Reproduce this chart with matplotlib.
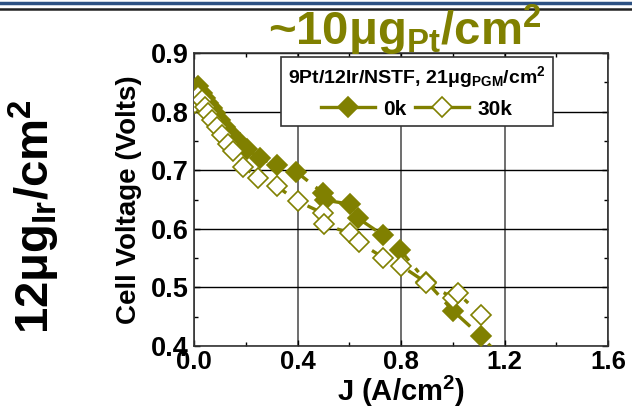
import matplotlib
matplotlib.use("Agg")
import matplotlib.pyplot as plt
from matplotlib.lines import Line2D

plt.rcParams['font.family'] = ['Liberation Sans', 'DejaVu Sans']
plt.rcParams['font.weight'] = 'bold'
plt.rcParams['axes.labelweight'] = 'bold'
plt.rcParams['mathtext.fontset'] = 'custom'
plt.rcParams['mathtext.rm'] = 'Liberation Sans:bold'
plt.rcParams['mathtext.it'] = 'Liberation Sans:bold'
plt.rcParams['mathtext.bf'] = 'Liberation Sans:bold'

OLIVE = '#808000'

# Polarization curves: current density (A/cm2) vs cell voltage (V)
j_0k = [0.004, 0.017, 0.030, 0.042, 0.055, 0.068, 0.081, 0.100, 0.120, 0.139,
        0.158, 0.178, 0.203, 0.255, 0.319, 0.396, 0.499, 0.506, 0.602, 0.634,
        0.731, 0.798, 0.898, 1.001, 1.108, 1.200]
v_0k = [0.835, 0.843, 0.831, 0.823, 0.814, 0.806, 0.797, 0.786, 0.774, 0.763,
        0.754, 0.747, 0.737, 0.720, 0.709, 0.697, 0.661, 0.649, 0.642, 0.618,
        0.589, 0.563, 0.510, 0.460, 0.417, 0.375]

j_30k = [0.004, 0.017, 0.030, 0.042, 0.055, 0.068, 0.088, 0.107, 0.130, 0.152,
         0.190, 0.248, 0.319, 0.400, 0.497, 0.503, 0.602, 0.637, 0.731, 0.800,
         0.898, 1.001, 1.020, 1.108]
v_30k = [0.815, 0.826, 0.820, 0.808, 0.797, 0.786, 0.774, 0.760, 0.745, 0.732,
         0.706, 0.687, 0.673, 0.647, 0.627, 0.608, 0.592, 0.577, 0.551, 0.537,
         0.508, 0.482, 0.490, 0.453]

labels = ['0k', '30k']
x_ticks = [0.0, 0.4, 0.8, 1.2, 1.6]
y_ticks = [0.4, 0.5, 0.6, 0.7, 0.8, 0.9]

fig = plt.figure(figsize=(6.32, 4.11), dpi=100)
ax = fig.add_axes([194 / 632, 1 - 346 / 411, 414 / 632, 293 / 411])

ax.plot(j_0k, v_0k, color=OLIVE, lw=2.4, dashes=(6, 3, 1.5, 3),
        marker='D', ms=10, mfc=OLIVE, mec=OLIVE, mew=1.2, label=labels[0],
        zorder=3)
ax.plot(j_30k, v_30k, color=OLIVE, lw=2.4, dashes=(5, 3, 1.5, 3),
        marker='D', ms=10, mfc='white', mec=OLIVE, mew=1.2, label=labels[1],
        zorder=4)

ax.set_xlim(0.0, 1.6)
ax.set_ylim(0.4, 0.9)
ax.set_xticks(x_ticks)
ax.set_yticks(y_ticks)
ax.set_xticklabels([f'{t:.1f}' for t in x_ticks])
ax.set_yticklabels([f'{t:.1f}' for t in y_ticks])
ax.set_xticks([0.2, 0.6, 1.0, 1.4], minor=True)
ax.set_yticks([0.45, 0.55, 0.65, 0.75, 0.85], minor=True)
ax.tick_params(axis='both', which='major', direction='in', length=4,
               width=1, top=True, right=True)
ax.tick_params(axis='both', which='minor', direction='in', length=3,
               width=1, top=True, right=True)
ax.tick_params(axis='x', which='major', labelsize=18.5, pad=3)
ax.tick_params(axis='y', which='major', labelsize=19.5, pad=4)
ax.xaxis.grid(True, color='#555555', lw=1.2)
ax.yaxis.grid(True, color='black', lw=1.0)
ax.set_axisbelow(True)
for s in ax.spines.values():
    s.set_color('#333333')
    s.set_linewidth(1.2)

ax.set_xlabel('J (A/cm$^{2}$)', fontsize=21, labelpad=0)
ax.set_ylabel('Cell Voltage (Volts)', fontsize=20, labelpad=6)

leg = ax.legend(title='9Pt/12Ir/NSTF, 21\u03bcg$_{\\rm PGM}$/cm$^{2}$',
                ncol=2, loc='upper right', bbox_to_anchor=(0.867, 0.986),
                fontsize=15, title_fontsize=14, frameon=True, fancybox=False,
                edgecolor='#333333', framealpha=1, handlelength=2.6,
                handletextpad=0.4, columnspacing=0.4, borderpad=0.35,
                labelspacing=0.45, borderaxespad=0)
leg.get_frame().set_linewidth(1.2)
leg._legend_box.align = 'center'
for h in leg.legend_handles:
    h.set_linestyle('-')

fig.text(0.64, 0.925, '~10\u03bcg$_{\\rm Pt}$/cm$^{2}$', color=OLIVE,
         fontsize=34, ha='center', va='center')
fig.text(0.055, 0.472, '12\u03bcg$_{\\rm Ir}$/cm$^{2}$', color='black',
         fontsize=34, ha='center', va='center', rotation=90)

# Slide header rules
fig.add_artist(Line2D([0, 1], [1 - 3 / 411, 1 - 3 / 411], color='#2E5283',
                      lw=2.5, transform=fig.transFigure))
fig.add_artist(Line2D([0, 1], [1 - 9 / 411, 1 - 9 / 411], color='#222222',
                      lw=1.8, transform=fig.transFigure))

fig.savefig('out.png', dpi=100, facecolor='white')
